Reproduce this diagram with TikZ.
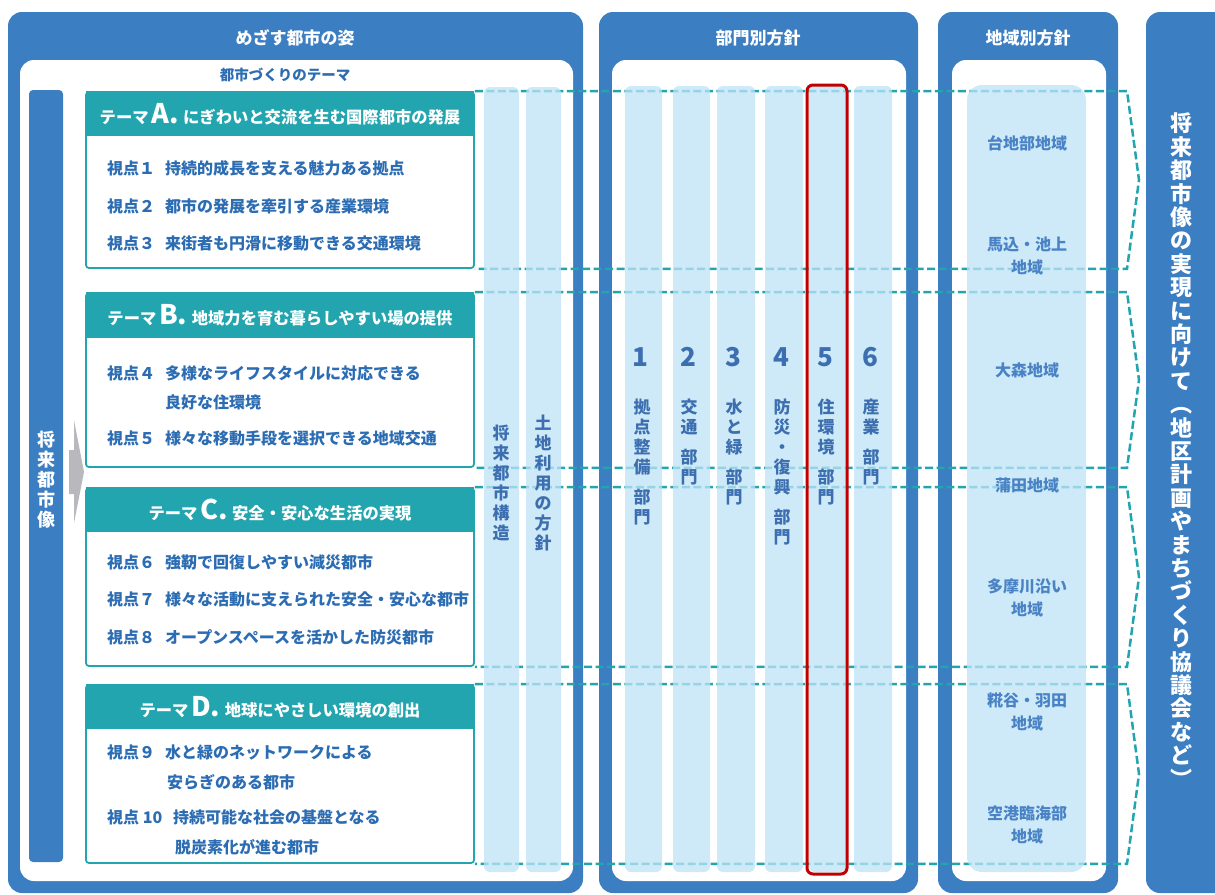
\documentclass[tikz,border=0pt]{standalone}
\usepackage{fontspec}
\setmainfont{Noto Sans CJK JP}
\definecolor{pblue}{HTML}{3C7EC2}
\definecolor{teal1}{HTML}{22A5AF}
\definecolor{tblue}{HTML}{2B6CB2}
\definecolor{lblue}{HTML}{BEE3F6}
\definecolor{ctext}{HTML}{3D6FB0}
\definecolor{rtext}{HTML}{4A83C5}
\definecolor{arrowgray}{HTML}{B9B9BD}
\definecolor{redc}{HTML}{C00000}
\tikzset{
 panelbg/.style={fill=pblue, rounded corners=14pt},
 innerbg/.style={fill=white, rounded corners=14pt},
 paneltitle/.style={text=white, font=\bfseries\fontsize{17}{20}\selectfont, inner sep=0pt},
 themebox/.style={draw=teal1, line width=1.8pt, rounded corners=3pt, fill=white, minimum width=388pt, inner sep=0pt},
 themehead/.style={fill=teal1, minimum width=388pt, inner sep=0pt, text=white, font=\bfseries\fontsize{16.3}{18}\selectfont},
 viewpt/.style={anchor=west, inner sep=0pt, text=tblue, font=\bfseries\fontsize{16}{18}\selectfont},
 colbar/.style={fill=lblue, fill opacity=0.75, rounded corners=6pt},
 coltxt/.style={text=ctext, font=\bfseries\fontsize{17}{20}\selectfont, align=center, inner sep=0pt},
 colnum/.style={text=ctext, font=\bfseries\fontsize{26}{28}\selectfont, inner sep=0pt},
 dashlink/.style={draw=teal1, line width=2.5pt, dash pattern=on 8pt off 3.5pt},
 regionlbl/.style={text=rtext, font=\bfseries\fontsize{16}{23}\selectfont, align=center, inner sep=0pt},
}
\begin{document}
\begin{tikzpicture}[x=1pt,y=-1pt]
\useasboundingbox (0,0) rectangle (1215,894);
% panels
\begin{scope}
\clip (0,0) rectangle (1215,894);
\fill[panelbg] (8,12) rectangle (583,893);
\fill[panelbg] (599,12) rectangle (918,893);
\fill[panelbg] (938,12) rectangle (1118,893);
\fill[panelbg] (1146,12) rectangle (1250,893);
\end{scope}
\fill[innerbg] (20,60) rectangle (573,881);
\fill[innerbg] (612,60) rectangle (906,881);
\fill[innerbg] (952,60) rectangle (1106,881);
\node[paneltitle] (t1) at (295,38) {めざす都市の姿};
\node[paneltitle] (t2) at (758,38) {部門別方針};
\node[paneltitle] (t3) at (1028,38) {地域別方針};
\node[text=tblue, font=\bfseries\fontsize{14.5}{16}\selectfont, inner sep=0pt] (sub) at (285,75) {都市づくりのテーマ};
% left bar
\fill[pblue, rounded corners=4pt] (29,90) rectangle (63,862);
\node[text=white, font=\bfseries\fontsize{18}{20}\selectfont, align=center, inner sep=0pt] (lb) at (46,480) {将\\来\\都\\市\\像};
\fill[arrowgray] (69,450) -- (74,450) -- (74,420) -- (84,472) -- (74,523) -- (74,494) -- (69,494) -- cycle;
% theme boxes
\node[themebox, minimum height=176pt] (tA) at (280,180) {};
\node[themehead, minimum height=45pt, anchor=north] (hA) at (tA.north) {テーマ\,{\fontsize{27}{27}\selectfont A.}\;にぎわいと交流を生む国際都市の発展};
\node[viewpt] (vA1) at (107,168) {視点１};
\node[viewpt] (dA1) at (165,168) {持続的成長を支える魅力ある拠点};
\node[viewpt] (vA2) at (107,206) {視点２};
\node[viewpt] (dA2) at (165,206) {都市の発展を牽引する産業環境};
\node[viewpt] (vA3) at (107,243) {視点３};
\node[viewpt] (dA3) at (165,243) {来街者も円滑に移動できる交通環境};

\node[themebox, minimum height=174pt] (tB) at (280,380) {};
\node[themehead, minimum height=46pt, anchor=north] (hB) at (tB.north) {テーマ\,{\fontsize{27}{27}\selectfont B.}\;地域力を育む暮らしやすい場の提供};
\node[viewpt] (vB1) at (107,373) {視点４};
\node[viewpt] (dB1) at (165,373) {多様なライフスタイルに対応できる};
\node[viewpt] (dB1b) at (165,402) {良好な住環境};
\node[viewpt] (vB2) at (107,438) {視点５};
\node[viewpt] (dB2) at (165,438) {様々な移動手段を選択できる地域交通};

\node[themebox, minimum height=178pt] (tC) at (280,577) {};
\node[themehead, minimum height=45pt, anchor=north] (hC) at (tC.north) {テーマ\,{\fontsize{27}{27}\selectfont C.}\;安全・安心な生活の実現};
\node[viewpt] (vC1) at (107,562) {視点６};
\node[viewpt] (dC1) at (165,562) {強靭で回復しやすい減災都市};
\node[viewpt] (vC2) at (107,599) {視点７};
\node[viewpt] (dC2) at (165,599) {様々な活動に支えられた安全・安心な都市};
\node[viewpt] (vC3) at (107,637) {視点８};
\node[viewpt] (dC3) at (165,637) {オープンスペースを活かした防災都市};

\node[themebox, minimum height=178pt] (tD) at (280,774) {};
\node[themehead, minimum height=45pt, anchor=north] (hD) at (tD.north) {テーマ\,{\fontsize{27}{27}\selectfont D.}\;地球にやさしい環境の創出};
\node[viewpt] (vD1) at (107,752) {視点９};
\node[viewpt] (dD1) at (165,752) {水と緑のネットワークによる};
\node[viewpt] (dD1b) at (167,782) {安らぎのある都市};
\node[viewpt] (vD2) at (107,817) {視点 10};
\node[viewpt] (dD2) at (173,817) {持続可能な社会の基盤となる};
\node[viewpt] (dD2b) at (175,847) {脱炭素化が進む都市};

% dashed links and brackets
\coordinate (xe) at (1127,0);
\foreach \t in {tA,tB,tC,tD}{
 \draw[dashlink] (\t.north east) -- (\t.north east -| xe) -- ([xshift=12pt]\t.east -| xe) -- (\t.south east -| xe) -- (\t.south east);
}
% light columns
\fill[colbar] (484,87) rectangle (519,872);
\fill[colbar] (526,87) rectangle (561,872);
\fill[colbar] (625,86) rectangle (662,872);
\fill[colbar] (673,86) rectangle (710,872);
\fill[colbar] (717,86) rectangle (755,872);
\fill[colbar] (765,86) rectangle (803,872);
\fill[colbar] (809,86) rectangle (846,872);
\fill[colbar] (854,86) rectangle (892,872);
\fill[colbar, rounded corners=15pt] (967,85) rectangle (1086,872);
% column texts
\node[coltxt] (c1) at (501,483) {将\\来\\都\\市\\構\\造};
\node[coltxt] (c2) at (543,483) {土\\地\\利\\用\\の\\方\\針};
\node[colnum] (n1) at (640,357) {1};
\node[colnum] (n2) at (688,357) {2};
\node[colnum] (n3) at (733,357) {3};
\node[colnum] (n4) at (781,357) {4};
\node[colnum] (n5) at (825,357) {5};
\node[colnum] (n6) at (870,357) {6};
\node[coltxt] (s1) at (642,462) {拠\\点\\整\\備\\[10pt]部\\門};
\node[coltxt] (s2) at (689,442) {交\\通\\[10pt]部\\門};
\node[coltxt] (s3) at (734,452) {水\\と\\緑\\[10pt]部\\門};
\node[coltxt] (s4) at (782,472) {防\\災\\・\\復\\興\\[10pt]部\\門};
\node[coltxt] (s5) at (826,452) {住\\環\\境\\[10pt]部\\門};
\node[coltxt] (s6) at (871,442) {産\\業\\[10pt]部\\門};
\draw[draw=redc, line width=3pt, rounded corners=6pt] (807,85) rectangle (847,874);
% regions
\node[regionlbl] (r1) at (1027,143) {台地部地域};
\node[regionlbl] (r2) at (1027,256) {馬込・池上\\地域};
\node[regionlbl] (r3) at (1027,370) {大森地域};
\node[regionlbl] (r4) at (1027,485) {蒲田地域};
\node[regionlbl] (r5) at (1027,598) {多摩川沿い\\地域};
\node[regionlbl] (r6) at (1027,712) {糀谷・羽田\\地域};
\node[regionlbl] (r7) at (1027,825) {空港臨海部\\地域};
% right panel text
\node[text=white, font=\bfseries\fontsize{22}{23.4}\selectfont, align=center, inner sep=0pt] (p4) at (1181,450) {将\\来\\都\\市\\像\\の\\実\\現\\に\\向\\け\\て\\︵\\地\\区\\計\\画\\や\\ま\\ち\\づ\\く\\り\\協\\議\\会\\な\\ど\\︶};
\end{tikzpicture}
\end{document}
